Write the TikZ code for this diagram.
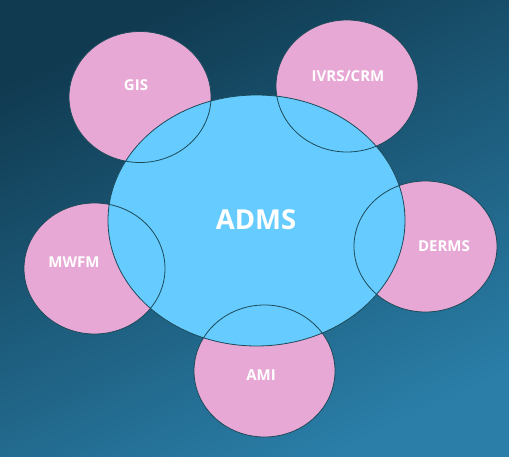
\documentclass[tikz,border=0pt]{standalone}
\usepackage{fontspec}
\setmainfont{Open Sans}
\definecolor{bgtop}{HTML}{103A50}
\definecolor{bgmid}{HTML}{174C66}
\definecolor{bgbot}{HTML}{2A7EA8}
\definecolor{pinkf}{HTML}{E8A8D5}
\definecolor{bluef}{HTML}{66CCFF}
\definecolor{edge}{HTML}{1B4A58}
\begin{document}
\begin{tikzpicture}[x=1pt,y=-1pt,
  sat/.style={fill=pinkf},
  satedge/.style={draw=edge,line width=0.8pt},
  lbl/.style={text=white,font=\bfseries\fontsize{15}{18}\selectfont}]
\useasboundingbox (0,0) rectangle (509,457);
\shade[top color=bgtop,middle color=bgmid,bottom color=bgbot,shading angle=25] (0,0) rectangle (509,457);
% satellite fills
\fill[sat] (140,97) ellipse [x radius=71,y radius=65.5];
\fill[sat] (347,86) ellipse [x radius=71,y radius=66];
\fill[sat] (425.5,246.5) ellipse [x radius=71.5,y radius=65.5];
\fill[sat] (94.5,268.5) ellipse [x radius=70.5,y radius=65.5];
\fill[sat] (264.5,371) ellipse [x radius=70.5,y radius=66];
% center
\draw[fill=bluef,draw=edge,line width=0.8pt] (256.5,220.5) ellipse [x radius=148.5,y radius=125.5];
% satellite outlines
\draw[satedge] (140,97) ellipse [x radius=71,y radius=65.5];
\draw[satedge] (347,86) ellipse [x radius=71,y radius=66];
\draw[satedge] (425.5,246.5) ellipse [x radius=71.5,y radius=65.5];
\draw[satedge] (94.5,268.5) ellipse [x radius=70.5,y radius=65.5];
\draw[satedge] (264.5,371) ellipse [x radius=70.5,y radius=66];
% labels
\node[text=white,font=\bfseries\fontsize{27.5}{32}\selectfont] (adms) at (256,220) {ADMS};
\node[lbl] (gis) at (136,85) {GIS};
\node[lbl] (ivrs) at (348,76) {IVRS/CRM};
\node[lbl] (derms) at (444,246) {DERMS};
\node[lbl] (mwfm) at (74,262) {MWFM};
\node[lbl] (ami) at (261,375) {AMI};
\end{tikzpicture}
\end{document}
